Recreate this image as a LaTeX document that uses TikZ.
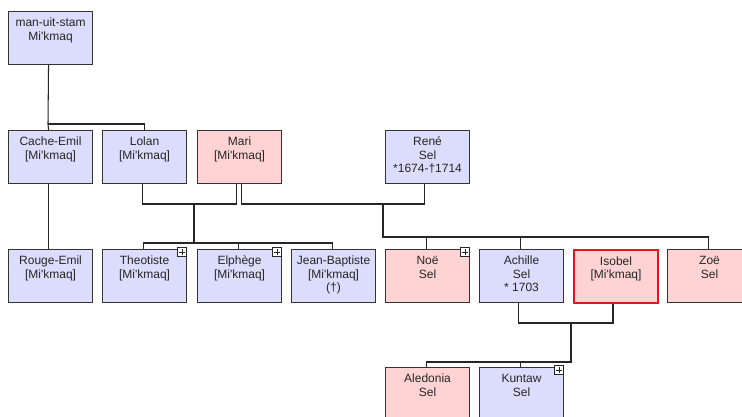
\documentclass[tikz,border=0pt]{standalone}
\usepackage{fontspec}
\setmainfont{Liberation Sans}[Ligatures=TeXOff]
\definecolor{bluef}{HTML}{DCDCFC}
\definecolor{pinkf}{HTML}{FFD3D3}
\definecolor{boxline}{HTML}{333333}
\definecolor{conncol}{HTML}{262626}
\definecolor{txt}{HTML}{262626}
\definecolor{redline}{HTML}{E01818}
\newcommand\bx[1]{\parbox[c][53pt][t]{84pt}{\centering\rule{0pt}{15pt}#1}}
\tikzset{
  person/.style={draw=boxline, line width=1.1pt, inner sep=0pt, anchor=north west,
    text=txt, font=\fontsize{12}{13.5}\selectfont},
  male/.style={person, fill=bluef},
  female/.style={person, fill=pinkf},
  focus/.style={draw=redline, line width=2pt},
  conn/.style={draw=conncol, line width=1.05pt},
  plusbox/.style={draw=conncol, fill=white, line width=0.9pt, minimum size=9pt,
    inner sep=0pt, anchor=north east},
  plusl/.style={draw=conncol, line width=0.9pt}
}
\newcommand\plusmark[2]{%
  \node[plusbox] (#1) at ([yshift=2pt]#2.north east) {};
  \draw[plusl] ([xshift=2pt]#1.west) -- ([xshift=-2pt]#1.east);
  \draw[plusl] ([yshift=-2pt]#1.north) -- ([yshift=2pt]#1.south);
}
\begin{document}
\begin{tikzpicture}[x=1pt,y=-1pt]
\useasboundingbox (0,0) rectangle (742,417);
\clip (0,0) rectangle (742,417);
\fill[white] (0,0) rectangle (742,417);
% row 0
\node[male] (stam) at (8,11) {\bx{man-uit-stam\\Mi'kmaq}};
% row 1
\node[male] (cache) at (8,130) {\bx{Cache-Emil\\{}[Mi'kmaq]}};
\node[male] (lolan) at (102,130) {\bx{Lolan\\{}[Mi'kmaq]}};
\node[female] (mari) at (197,130) {\bx{Mari\\{}[Mi'kmaq]}};
\node[male] (rene) at (385,130) {\bx{René\\Sel\\{}*1674-†1714}};
% row 2
\node[male] (rouge) at (8,249) {\bx{Rouge-Emil\\{}[Mi'kmaq]}};
\node[male] (theo) at (102,249) {\bx{Theotiste\\{}[Mi'kmaq]}};
\node[male] (elph) at (197,249) {\bx{Elphège\\{}[Mi'kmaq]}};
\node[male] (jb) at (291,249) {\bx{Jean-Baptiste\\{}[Mi'kmaq]\\(†)}};
\node[female] (noe) at (385,249) {\bx{Noë\\Sel}};
\node[male] (achille) at (479,249) {\bx{Achille\\Sel\\{}* 1703}};
\node[female, focus] (isobel) at (573,249) {\bx{Isobel\\{}[Mi'kmaq]}};
\node[female] (zoe) at (667,249) {\bx{Zoë\\Sel}};
% row 3
\node[female] (aled) at (385,367) {\bx{Aledonia\\Sel}};
\node[male] (kuntaw) at (479,367) {\bx{Kuntaw\\Sel}};
% junctions
\coordinate (j0) at (48,124);
\coordinate (j1) at (194,204);
\coordinate (j1b) at (194,243);
\coordinate (j2) at (383,204);
\coordinate (j2b) at (383,237);
\coordinate (j3) at (571,323);
\coordinate (j3b) at (571,362);
% connectors
\draw[conn] ([xshift=-2pt]stam.south) -- (j0) -- ([xshift=-2pt]cache.north);
\draw[conn] (j0) -| (lolan.north);
\draw[conn] ([xshift=-2pt]cache.south) -- ([xshift=-2pt]rouge.north);
\draw[conn] ([xshift=-2pt]lolan.south) |- (j1) -| ([xshift=-3pt]mari.south);
\draw[conn] (j1) -- (j1b);
\draw[conn] ([xshift=-1pt]theo.north) -- ++(0,-6) -| ([xshift=-1pt]jb.north);
\draw[conn] ([xshift=-1pt]elph.north) -- ++(0,-6);
\draw[conn] ([xshift=2pt]mari.south) |- (j2) -| ([xshift=-3pt]rene.south);
\draw[conn] (j2) -- (j2b) -| ([xshift=-1pt]zoe.north);
\draw[conn] ([xshift=-1pt]noe.north) -- ++(0,-12);
\draw[conn] ([xshift=-1pt]achille.north) -- ++(0,-12);
\draw[conn] ([xshift=-3pt]achille.south) |- (j3) -| ([xshift=-3pt]isobel.south);
\draw[conn] (j3) -- (j3b) -| ([xshift=-1pt]aled.north);
\draw[conn] ([xshift=-1pt]kuntaw.north) -- ++(0,-5);
% expand markers
\plusmark{theop}{theo}
\plusmark{elphp}{elph}
\plusmark{noep}{noe}
\plusmark{kuntawp}{kuntaw}
\end{tikzpicture}
\end{document}
